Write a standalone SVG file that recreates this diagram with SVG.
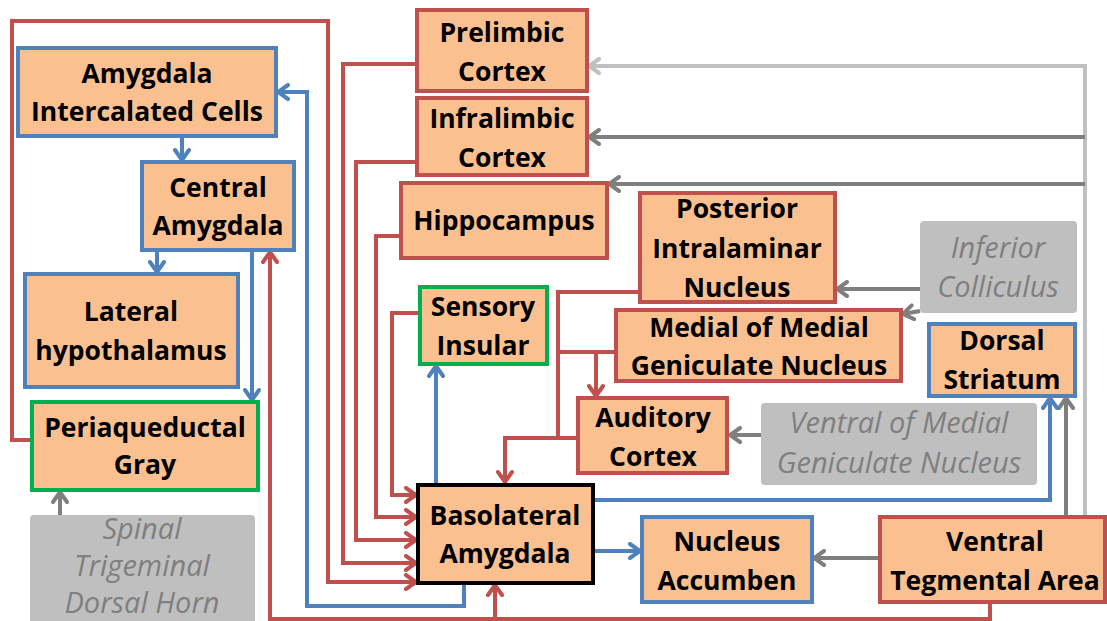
<svg xmlns="http://www.w3.org/2000/svg" width="1107" height="621" viewBox="0 0 1107 621">
<style>
.n{fill:#FAC090;stroke-width:4}
.r{stroke:#C0504D}.b{stroke:#4F81BD}.g{stroke:#00B050}.k{stroke:#000}
.gb{fill:#BFBFBF;stroke:none}
text{font-family:"Open Sans","Liberation Sans",sans-serif;font-size:26.5px;text-anchor:middle}
.t{font-weight:bold;fill:#000}
.i{font-style:italic;fill:#7F7F7F;font-size:29px}
.c{fill:none;stroke-width:4}
.cr{stroke:#C0504D;marker-end:url(#mr)}
.cb{stroke:#4F81BD;marker-end:url(#mb)}
.cd{stroke:#7F7F7F;marker-end:url(#md)}
.cl{stroke:#C0C0C0;marker-end:url(#ml)}
</style>
<defs>
<marker id="mr" markerUnits="userSpaceOnUse" markerWidth="16" markerHeight="18" viewBox="0 0 16 18" refX="13" refY="9" orient="auto"><path d="M3,2 L13,9 L3,16" fill="none" stroke="#C0504D" stroke-width="4" stroke-linecap="round"/></marker>
<marker id="mb" markerUnits="userSpaceOnUse" markerWidth="16" markerHeight="18" viewBox="0 0 16 18" refX="13" refY="9" orient="auto"><path d="M3,2 L13,9 L3,16" fill="none" stroke="#4F81BD" stroke-width="4" stroke-linecap="round"/></marker>
<marker id="md" markerUnits="userSpaceOnUse" markerWidth="16" markerHeight="18" viewBox="0 0 16 18" refX="13" refY="9" orient="auto"><path d="M3,2 L13,9 L3,16" fill="none" stroke="#7F7F7F" stroke-width="4" stroke-linecap="round"/></marker>
<marker id="ml" markerUnits="userSpaceOnUse" markerWidth="16" markerHeight="18" viewBox="0 0 16 18" refX="13" refY="9" orient="auto"><path d="M3,2 L13,9 L3,16" fill="none" stroke="#C0C0C0" stroke-width="4" stroke-linecap="round"/></marker>
</defs>
<rect width="1107" height="621" fill="#fff"/>
<g id="connectors" class="c">
<path class="c cl" d="M1085,516 V66 H589"/>
<path class="c cd" d="M1085,137 H589"/>
<path class="c cd" d="M1085,184 H609"/>
<path class="c cd" d="M920,289 H837"/>
<path class="c cd" d="M920,311 L903,314"/>
<path class="c cd" d="M761,435 H730"/>
<path class="c cd" d="M1066,516 V398"/>
<path class="c cd" d="M880,558 H814"/>
<path class="c cd" d="M60,515 V492"/>
<path class="c cr" d="M32,440 H12 V21 H328 V582 H416"/>
<path class="c cr" d="M417,64 H343 V563 H416"/>
<path class="c cr" d="M417,162 H356 V540 H416"/>
<path class="c cr" d="M401,236 H376 V517 H416"/>
<path class="c cr" d="M420,313 H392 V495 H416"/>
<path class="c cr" d="M990,603 V619 H270 V252"/>
<path class="c cr" d="M495,619 V585"/>
<path class="c r" d="M640,292 H558 V438"/>
<path class="c r" d="M616,352 H558"/>
<path class="c cr" d="M596,352 V396"/>
<path class="c cr" d="M578,438 H505 V482"/>
<path class="c cb" d="M182,136 V160"/>
<path class="c cb" d="M157,250 V272"/>
<path class="c cb" d="M252,250 V400"/>
<path class="c cb" d="M464,583 V606 H307 V92 H278"/>
<path class="c cb" d="M436,484 V366"/>
<path class="c cb" d="M594,500 H1050 V398"/>
<path class="c cb" d="M594,551 H640"/>
</g>
<g id="aic"><rect class="n b" x="18" y="48" width="258" height="88"/><text class="t" x="147" y="83">Amygdala</text><text class="t" x="147" y="121">Intercalated Cells</text></g>
<g id="cea"><rect class="n b" x="142" y="162" width="152" height="88"/><text class="t" x="218" y="197">Central</text><text class="t" x="218" y="235">Amygdala</text></g>
<g id="lh"><rect class="n b" x="25" y="274" width="213" height="113"/><text class="t" x="131" y="321">Lateral</text><text class="t" x="131" y="360">hypothalamus</text></g>
<g id="pag"><rect class="n g" x="32" y="402" width="226" height="88"/><text class="t" x="145" y="437">Periaqueductal</text><text class="t" x="145" y="474">Gray</text></g>
<g id="stdh"><rect class="gb" x="30" y="515" width="225" height="115" rx="4"/><text class="i" x="142" y="539">Spinal</text><text class="i" x="142" y="576">Trigeminal</text><text class="i" x="142" y="613">Dorsal Horn</text></g>
<g id="plc"><rect class="n r" x="417" y="10" width="170" height="81"/><text class="t" x="502" y="42">Prelimbic</text><text class="t" x="502" y="81">Cortex</text></g>
<g id="ilc"><rect class="n r" x="417" y="98" width="170" height="77"/><text class="t" x="502" y="128">Infralimbic</text><text class="t" x="502" y="167">Cortex</text></g>
<g id="hpc"><rect class="n r" x="401" y="183" width="206" height="75"/><text class="t" x="504" y="230">Hippocampus</text></g>
<g id="si"><rect class="n g" x="420" y="287" width="127" height="77"/><text class="t" x="483" y="316">Sensory</text><text class="t" x="483" y="355">Insular</text></g>
<g id="pin"><rect class="n r" x="640" y="193" width="195" height="109"/><text class="t" x="737" y="218">Posterior</text><text class="t" x="737" y="258">Intralaminar</text><text class="t" x="737" y="297">Nucleus</text></g>
<g id="mmgn"><rect class="n r" x="616" y="310" width="285" height="71"/><text class="t" x="759" y="337">Medial of Medial</text><text class="t" x="759" y="375">Geniculate Nucleus</text></g>
<g id="ac"><rect class="n r" x="578" y="398" width="149" height="75"/><text class="t" x="653" y="427">Auditory</text><text class="t" x="653" y="466">Cortex</text></g>
<g id="ic"><rect class="gb" x="920" y="221" width="157" height="92" rx="4"/><text class="i" x="998" y="258">Inferior</text><text class="i" x="998" y="297">Colliculus</text></g>
<g id="ds"><rect class="n b" x="929" y="324" width="146" height="72"/><text class="t" x="1002" y="350">Dorsal</text><text class="t" x="1002" y="389">Striatum</text></g>
<g id="vmgn"><rect class="gb" x="761" y="403" width="276" height="82" rx="4"/><text class="i" x="899" y="433">Ventral of Medial</text><text class="i" x="899" y="473">Geniculate Nucleus</text></g>
<g id="bla"><rect class="n k" x="418" y="485" width="175" height="98"/><text class="t" x="505" y="525">Basolateral</text><text class="t" x="505" y="563">Amygdala</text></g>
<g id="nac"><rect class="n b" x="642" y="517" width="170" height="85"/><text class="t" x="727" y="551">Nucleus</text><text class="t" x="727" y="590">Accumben</text></g>
<g id="vta"><rect class="n r" x="880" y="517" width="225" height="85"/><text class="t" x="995" y="551">Ventral</text><text class="t" x="995" y="590">Tegmental Area</text></g>
</svg>
